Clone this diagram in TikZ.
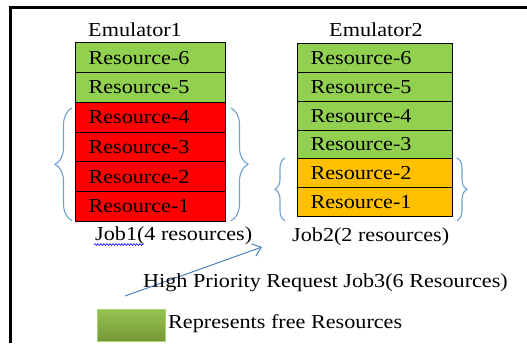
\documentclass[tikz,border=0pt]{standalone}
\usepackage{fontspec}
\setmainfont{Liberation Serif}
\usetikzlibrary{decorations.pathreplacing,decorations.pathmorphing,arrows.meta}
\definecolor{freegreen}{RGB}{146,208,80}
\definecolor{busyred}{RGB}{255,0,0}
\definecolor{busyorange}{RGB}{255,192,0}
\definecolor{bracebl}{RGB}{110,160,210}
\definecolor{arrowbl}{RGB}{79,129,189}
\definecolor{legtop}{RGB}{150,196,80}
\definecolor{legbot}{RGB}{118,152,55}
% text set slightly wider than the font's natural shape
\newcommand{\wide}[1]{\scalebox{1.12}[1]{#1}}
\begin{document}
\begin{tikzpicture}[x=1pt,y=-1pt,
  every node/.style={font=\rmfamily\fontsize{19.8}{22}\selectfont, inner sep=0pt},
  cellA/.style={draw=black, line width=1.1pt, anchor=north west,
    minimum width=150pt, minimum height=29.73pt, text width=124pt,
    inner xsep=13pt, align=left},
  cellB/.style={draw=black, line width=1.1pt, anchor=north west,
    minimum width=155pt, minimum height=28.73pt, text width=129pt,
    inner xsep=13pt, align=left},
  label/.style={anchor=base west},
  curly/.style={draw=bracebl, line width=1.1pt, decorate},
]
\useasboundingbox (0,0) rectangle (527,343);

% page frame
\draw[line width=2.5pt] (10.5,343) -- (10.5,7.5) -- (527,7.5);

% Emulator1 stack
\node[label] (em1) at (88,36) {\wide{Emulator1}};
\foreach \i/\c in {1/busyred,2/busyred,3/busyred,4/busyred,5/freegreen,6/freegreen}
  \node[cellA, fill=\c] (a\i) at (75,{220.7-\i*29.73}) {\wide{Resource-\i}};

% Emulator2 stack
\node[label] (em2) at (329,36) {\wide{Emulator2}};
\foreach \i/\c in {1/busyorange,2/busyorange,3/freegreen,4/freegreen,5/freegreen,6/freegreen}
  \node[cellB, fill=\c] (b\i) at (297,{215.7-\i*28.73}) {\wide{Resource-\i}};

% braces around the allocated resources
\draw[curly, decoration={brace,amplitude=17pt}] (72,220.7) -- (72,108);
\draw[curly, decoration={brace,amplitude=17pt}] (231,108) -- (231,220.7);
\draw[curly, decoration={brace,amplitude=10pt}] (285,220.7) -- (285,158);
\draw[curly, decoration={brace,amplitude=10pt}] (457,158) -- (457,220.7);

% job labels
\node[label] (job1) at (95,240) {\wide{Job1(4 resources)}};
\draw[blue, line width=0.6pt, decorate,
  decoration={snake, amplitude=0.9pt, segment length=3pt}] (94,244.5) -- (143,244.5);
\node[label] (job2) at (292,241) {\wide{Job2(2 resources)}};

% incoming request
\coordinate (reqS) at (125,296);
\coordinate (reqE) at (262,247);
\draw[arrowbl, line width=1pt, -{Straight Barb[length=8pt,width=13pt]}] (reqS) -- (reqE);
\node[label] (req) at (143,287) {\wide{High Priority Request Job3(6 Resources)}};

% legend
\node[draw=legtop!80!white, line width=0.6pt, anchor=north west,
  minimum width=68pt, minimum height=32pt,
  top color=legtop, bottom color=legbot] (leg) at (97,309) {};
\node[label] (legtxt) at (168,328) {\wide{Represents free Resources}};
\end{tikzpicture}
\end{document}
